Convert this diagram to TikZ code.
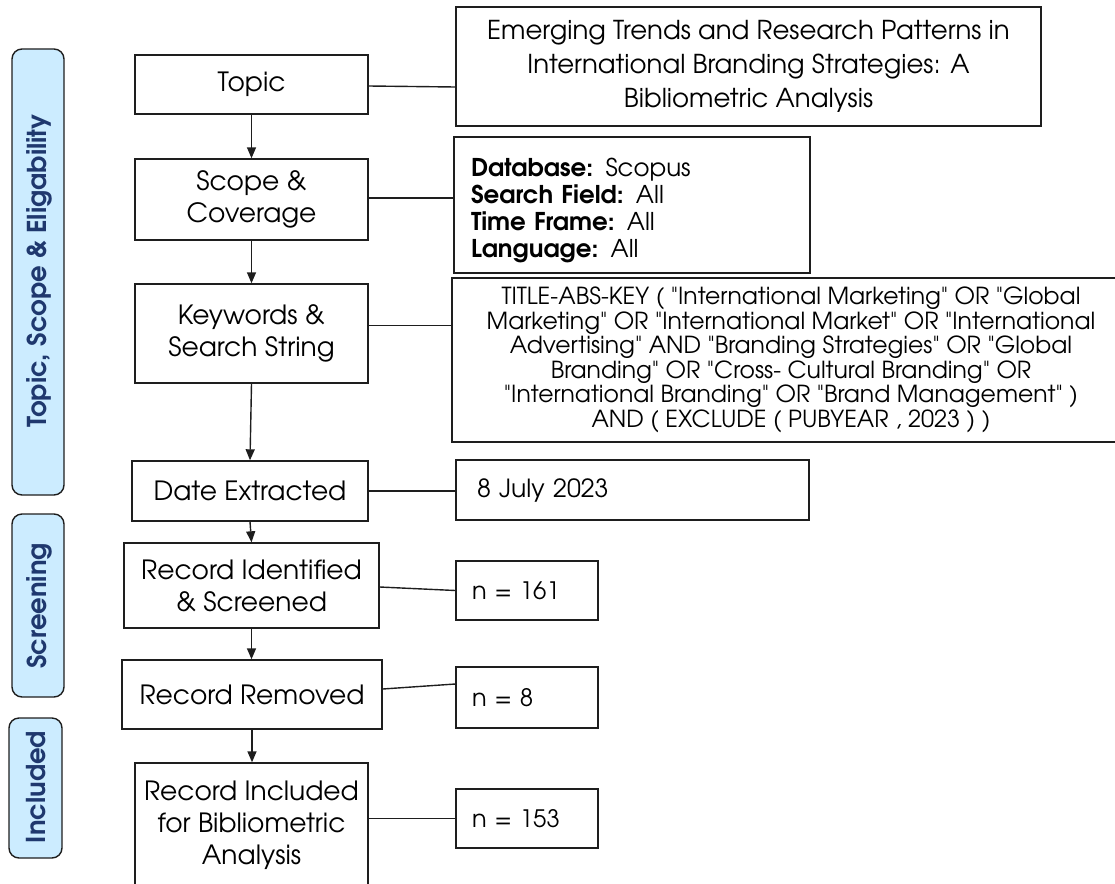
\documentclass[tikz,border=0pt]{standalone}
\usepackage{fontspec}
\setmainfont{TeX Gyre Adventor}
\newfontfamily\plainquotes{TeX Gyre Adventor}[Ligatures=TeXOff]
\usetikzlibrary{arrows.meta}
\definecolor{bandfill}{RGB}{204,236,255}
\definecolor{bandtext}{RGB}{31,56,110}
\definecolor{lc}{RGB}{30,30,30}
\begin{document}
\begin{tikzpicture}[x=1pt,y=-1pt,
  box/.style={draw=lc, line width=1.4pt, inner sep=0pt, align=center,
    font=\fontsize{26.5}{32}\selectfont},
  rbox/.style={draw=lc, line width=1.4pt, inner ysep=0pt, align=left},
  band/.style={draw=lc, line width=1.4pt, fill=bandfill, rounded corners=10pt},
  bandlabel/.style={rotate=90, text=bandtext, font=\fontsize{26}{30}\selectfont\bfseries},
  link/.style={draw=lc, line width=1.4pt},
  arr/.style={draw=lc, line width=1.4pt, -{Triangle[width=9pt,length=11pt]}}]
\useasboundingbox (0,0) rectangle (1115,883);
% bands
\draw[band] (12,49) rectangle (64,495);
\node[bandlabel] (b1) at (39,271) {Topic, Scope \& Eligability};
\draw[band] (12,514) rectangle (64,697);
\node[bandlabel] (b2) at (39,606) {Screening};
\draw[band] (9,718) rectangle (62,858);
\node[bandlabel] (b3) at (36.5,787) {Included};
% main column
\node[box, minimum width=233, minimum height=59] (topic) at (251.5,84.5) {Topic};
\node[box, minimum width=233, minimum height=81] (scope) at (251.5,199.5) {Scope \&\\Coverage};
\node[box, minimum width=233, minimum height=99] (kw) at (251.5,333.5) {Keywords \&\\Search String};
\node[box, minimum width=236, minimum height=60] (date) at (250,491) {Date Extracted};
\node[box, minimum width=255, minimum height=85] (ri) at (251.5,585.5) {Record Identified\\\& Screened};
\node[box, minimum width=260, minimum height=69] (rr) at (252,694.5) {Record Removed};
\node[box, minimum width=233, minimum height=125] (inc) at (251.5,825.5) {Record Included\\for Bibliometric\\Analysis};
% right column
\node[box, minimum width=585, minimum height=119, font=\fontsize{26}{34}\selectfont] (title) at (748.5,66.5)
  {Emerging Trends and Research Patterns in\\International Branding Strategies: A\\Bibliometric Analysis};
\node[rbox, minimum width=356, minimum height=136] (db) at (632,205) {};
\node[align=left, text width=322, inner sep=0pt, font=\fontsize{24.5}{27}\selectfont] (dbtext) at (632,210)
  {\textbf{Database:} Scopus\\\textbf{Search Field:} All\\\textbf{Time Frame:} All\\\textbf{Language:} All};
\node[box, minimum width=678, minimum height=164, font=\fontsize{23.5}{24.5}\selectfont\plainquotes] (ss) at (791,360)
  {TITLE-ABS-KEY ( "International Marketing" OR "Global\\
   Marketing" OR "International Market" OR "International\\
   Advertising" AND "Branding Strategies" OR "Global\\
   Branding" OR "Cross- Cultural Branding" OR\\
   "International Branding" OR "Brand Management" )\\
   AND ( EXCLUDE ( PUBYEAR , 2023 ) )};
\node[rbox, text width=311, inner xsep=21, minimum height=60, font=\fontsize{25}{30}\selectfont] (july) at (632.5,490) {8 July 2023};
\node[rbox, text width=110, inner xsep=16, minimum height=59, font=\fontsize{24}{30}\selectfont] (n161) at (527,590.5) {n = 161};
\node[rbox, text width=110, inner xsep=16, minimum height=61, font=\fontsize{24}{30}\selectfont] (n8) at (527,697.5) {n = 8};
\node[rbox, text width=110, inner xsep=16, minimum height=59, font=\fontsize{24}{30}\selectfont] (n153) at (527,818.5) {n = 153};
% arrows
\draw[arr] (topic.south) -- (topic.south |- scope.north);
\draw[arr] (scope.south) -- (scope.south |- kw.north);
\draw[arr] (kw.south) -- (date.north);
\draw[arr] (date.south) -- (ri.north);
\draw[arr] (ri.south) -- (ri.south |- rr.north);
\draw[arr] (rr.south) -- (rr.south |- inc.north);
% links
\draw[link] ([yshift=-1.5pt]topic.east) -- ([yshift=-20.5pt]title.west);
\draw[link] ([yshift=1.5pt]scope.east) -- ([yshift=1.5pt]scope.east -| db.west);
\draw[link] ([yshift=8pt]kw.east) -- ([yshift=8pt]kw.east -| ss.west);
\draw[link] (date.east) -- (date.east -| july.west);
\draw[link] ([yshift=-1.5pt]ri.east) -- (n161.west);
\draw[link] ([yshift=5.5pt]rr.east) -- ([yshift=13.5pt]n8.west);
\draw[link] (n153.west -| inc.east) -- (n153.west);
\end{tikzpicture}
\end{document}
